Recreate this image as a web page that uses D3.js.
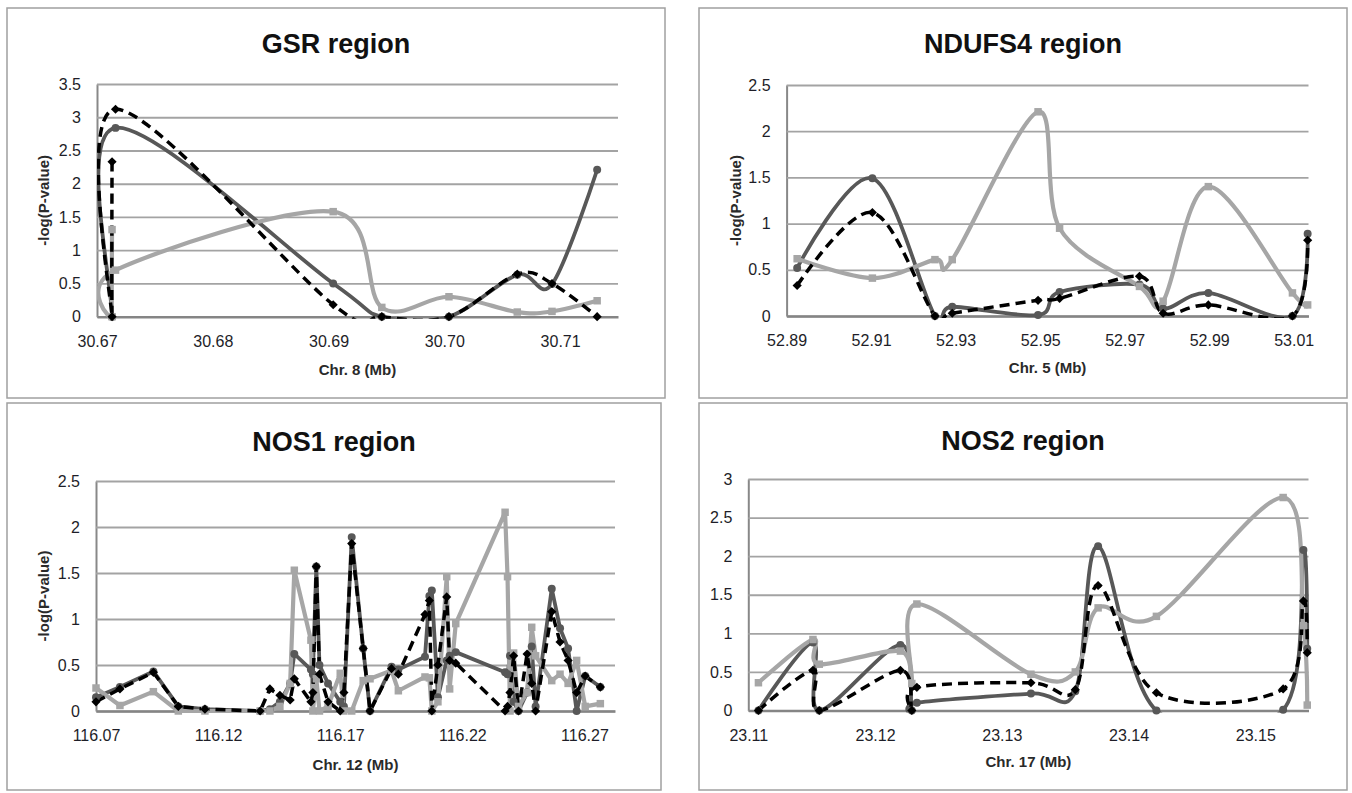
<!DOCTYPE html>
<html>
<head>
<meta charset="utf-8">
<script src="https://cdn.jsdelivr.net/npm/d3@7"></script>
<style>
  body { margin: 0; background: #fff; }
  svg { display: block; }
  text { font-family: "Liberation Sans", Arial, sans-serif; }
</style>
</head>
<body>
<div id="chart"></div>
<script>
// ---- data: SNP position (Mb) and -log(P) for three series ----
// series order in every panel: dark grey solid (circles), black dashed (diamonds), light grey (squares)

// GSR region, chr 8
const gsrPos    = [30.6713, 30.6713, 30.6716, 30.6904, 30.6946, 30.7004, 30.7063, 30.7093, 30.7132];
const gsrDark   = [0, 0, 2.84, 0.50, 0, 0, 0.63, 0.49, 2.21];
const gsrDashed = [2.33, 0, 3.12, 0.18, 0, 0, 0.64, 0.50, 0];
const gsrLight  = [1.31, 0, 0.70, 1.58, 0.14, 0.30, 0.07, 0.08, 0.24];
const gsrXTicks = [30.67, 30.68, 30.69, 30.70, 30.71];
const gsrYTicks = [0, 0.5, 1, 1.5, 2, 2.5, 3, 3.5];

// NDUFS4 region, chr 5
const ndPos    = [52.8925, 52.9103, 52.9251, 52.9292, 52.9495, 52.9546, 52.9735, 52.9791, 52.9898, 53.0097, 53.0133];
const ndDark   = [0.52, 1.49, 0, 0.10, 0.01, 0.26, 0.34, 0.08, 0.25, 0, 0.89];
const ndDashed = [0.33, 1.12, 0, 0.03, 0.17, 0.19, 0.43, 0.03, 0.12, 0, 0.82];
const ndLight  = [0.62, 0.41, 0.61, 0.61, 2.21, 0.95, 0.32, 0.16, 1.40, 0.25, 0.12];
const ndXTicks = [52.89, 52.91, 52.93, 52.95, 52.97, 52.99, 53.01];
const ndYTicks = [0, 0.5, 1, 1.5, 2, 2.5];

// NOS1 region, chr 12
const nos1Pos = [116.0700, 116.0798, 116.0935, 116.1037, 116.1146, 116.1372, 116.1412, 116.1453, 116.1495, 116.1512,
                 116.1580, 116.1588, 116.1602, 116.1615, 116.1650, 116.1700, 116.1715, 116.1747, 116.1794, 116.1822,
                 116.1910, 116.1938, 116.2047, 116.2065, 116.2075, 116.2100, 116.2136, 116.2148, 116.2173, 116.2375,
                 116.2385, 116.2395, 116.2410, 116.2430, 116.2465, 116.2484, 116.2500, 116.2566, 116.2600, 116.2633,
                 116.2668, 116.2703, 116.2765];
const nos1Dark = [0.15, 0.26, 0.43, 0.05, 0.02, 0, 0.02, 0.10, 0.30, 0.62,
                  0.45, 0.40, 1.57, 0.50, 0.30, 0.10, 0.05, 1.89, 0.68, 0,
                  0.48, 0.45, 0.59, 1.25, 1.31, 0.15, 0.55, 0.60, 0.64, 0.42,
                  0.40, 0.60, 0.10, 0, 0.20, 0.70, 0.05, 1.33, 0.90, 0.68,
                  0, 0.38, 0.26];
const nos1Dashed = [0.10, 0.24, 0.42, 0.05, 0.02, 0, 0.24, 0.17, 0.12, 0.35,
                    0.10, 0.20, 1.57, 0.40, 0.10, 0, 0.20, 1.82, 0.68, 0,
                    0.46, 0.40, 1.05, 1.20, 0, 0.50, 1.24, 0.55, 0.52, 0,
                    0.05, 0.20, 0.60, 0, 0.62, 0.30, 0, 1.08, 0.75, 0.55,
                    0.20, 0.38, 0.26];
const nos1Light = [0.25, 0.06, 0.21, 0, 0, 0, 0, 0.05, 0.30, 1.53,
                   0.77, 0, 0.35, 0, 0.05, 0.41, 0, 0, 0.33, 0.35,
                   0.44, 0.22, 0.37, 0.36, 0, 0.10, 1.46, 0.24, 0.95, 2.16,
                   1.46, 0, 0.63, 0.05, 0.20, 0.91, 0.60, 0.33, 0.40, 0.30,
                   0.55, 0.05, 0.08];
const nos1XTicks = [116.07, 116.12, 116.17, 116.22, 116.27];
const nos1YTicks = [0, 0.5, 1, 1.5, 2, 2.5];

// NOS2 region, chr 17
const nos2Pos    = [23.1108, 23.1151, 23.1156, 23.1220, 23.1229, 23.1233, 23.1323, 23.1358, 23.1376, 23.1422, 23.1522, 23.1538, 23.1541];
const nos2Dark   = [0, 0.88, 0, 0.85, 0, 0.10, 0.22, 0.25, 2.13, 0, 0.01, 2.08, 0.80];
const nos2Dashed = [0, 0.52, 0, 0.52, 0, 0.30, 0.36, 0.27, 1.62, 0.23, 0.28, 1.42, 0.75];
const nos2Light  = [0.36, 0.92, 0.60, 0.77, 0.35, 1.38, 0.47, 0.50, 1.33, 1.22, 2.76, 1.10, 0.07];
const nos2XTicks = [23.11, 23.12, 23.13, 23.14, 23.15];
const nos2YTicks = [0, 0.5, 1, 1.5, 2, 2.5, 3];


const W = 1352, H = 793;

const svg = d3.select("#chart")
    .append("svg")
    .attr("width", W)
    .attr("height", H);

// box = [x, y, w, h] of the panel frame, plot = [left, right, top, bottom]
const panels = [
    { id: "gsr", title: "GSR region", xLabel: "Chr. 8 (Mb)", yLabel: "-log(P-value)",
      pos: gsrPos, series: [gsrDark, gsrDashed, gsrLight], xTicks: gsrXTicks, yTicks: gsrYTicks,
      xMax: 30.715, fmt: ".2f", smooth: true,
      box: [7, 8, 658, 390], plot: [97, 618, 84, 316.7], titleY: 53, xLabelY: 375, yLabelX: 44 },
    { id: "nd", title: "NDUFS4 region", xLabel: "Chr. 5 (Mb)", yLabel: "-log(P-value)",
      pos: ndPos, series: [ndDark, ndDashed, ndLight], xTicks: ndXTicks, yTicks: ndYTicks,
      xMax: 53.0135, fmt: ".2f", smooth: true,
      box: [699, 8, 648, 390], plot: [786.6, 1308.5, 85, 316], titleY: 53, xLabelY: 373, yLabelX: 736 },
    { id: "nos1", title: "NOS1 region", xLabel: "Chr. 12 (Mb)", yLabel: "-log(P-value)",
      pos: nos1Pos, series: [nos1Dark, nos1Dashed, nos1Light], xTicks: nos1XTicks, yTicks: nos1YTicks,
      xMax: 116.2825, fmt: ".2f", smooth: false,
      box: [7, 403, 654, 387], plot: [96, 615, 481, 711], titleY: 451, xLabelY: 770, yLabelX: 44 },
    { id: "nos2", title: "NOS2 region", xLabel: "Chr. 17 (Mb)", yLabel: null,
      pos: nos2Pos, series: [nos2Dark, nos2Dashed, nos2Light], xTicks: nos2XTicks, yTicks: nos2YTicks,
      xMax: 23.1542, fmt: ".2f", smooth: true,
      box: [699, 403, 648, 387], plot: [748.3, 1308.5, 479, 710.5], titleY: 450, xLabelY: 767, yLabelX: null }
];

const seriesStyle = [
    { color: "#585858", width: 3.8, dash: null, symbol: d3.symbolCircle, size: 50, rotate: 0 },
    { color: "#000000", width: 3.5, dash: "10,6", symbol: d3.symbolSquare, size: 42, rotate: 45 },
    { color: "#a6a6a6", width: 4.2, dash: null, symbol: d3.symbolSquare, size: 56, rotate: 0 }
];
const drawOrder = [0, 2, 1];

let drawPanel = function(p) {

    const g = svg.append("g").attr("class", "panel");

    g.append("rect")
        .attr("x", p.box[0])
        .attr("y", p.box[1])
        .attr("width", p.box[2])
        .attr("height", p.box[3])
        .attr("fill", "#fff")
        .attr("stroke", "#a0a0a0")
        .attr("stroke-width", 1.5);

    const x = d3.scaleLinear().domain([p.xTicks[0], p.xMax]).range([p.plot[0], p.plot[1]]);
    const y = d3.scaleLinear().domain([0, d3.max(p.yTicks)]).range([p.plot[3], p.plot[2]]);

    // y axis with gridlines
    const yAxis = g.append("g")
        .attr("transform", "translate(" + p.plot[0] + ",0)")
        .call(d3.axisLeft(y)
            .tickValues(p.yTicks)
            .tickFormat(d3.format(""))
            .tickSize(-(p.plot[1] - p.plot[0]))
            .tickSizeOuter(0)
            .tickPadding(16));
    yAxis.select(".domain").attr("stroke", "#888").attr("stroke-width", 2);
    yAxis.selectAll(".tick line").attr("stroke", "#a3a3a3").attr("stroke-width", 1.8);
    yAxis.selectAll(".tick text")
        .attr("font-size", 16)
        .attr("fill", "#1e1e28");

    // x axis along zero
    const xAxis = g.append("g")
        .attr("transform", "translate(0," + p.plot[3] + ")")
        .call(d3.axisBottom(x)
            .tickValues(p.xTicks)
            .tickFormat(d3.format(p.fmt))
            .tickSize(0)
            .tickSizeOuter(0)
            .tickPadding(19));
    xAxis.select(".domain").attr("stroke", "#858585").attr("stroke-width", 2.6);
    xAxis.selectAll(".tick text")
        .attr("font-size", 16)
        .attr("fill", "#1e1e28");

    // clip so smoothed overshoot stays inside the plot area
    g.append("clipPath")
        .attr("id", "clip-" + p.id)
        .append("rect")
        .attr("x", p.plot[0])
        .attr("y", p.plot[2] - 4)
        .attr("width", p.plot[1] - p.plot[0] + 4)
        .attr("height", p.plot[3] - p.plot[2] + 6);

    const lines = g.append("g").attr("clip-path", "url(#clip-" + p.id + ")");

    const line = d3.line()
        .x(function(d, i) { return x(p.pos[i]); })
        .y(function(d) { return y(d); })
        .curve(p.smooth ? d3.curveCardinal.tension(0) : d3.curveLinear);

    drawOrder.forEach(function(k) {
        const st = seriesStyle[k];
        const vals = p.series[k];

        lines.append("path")
            .datum(vals)
            .attr("d", line)
            .attr("fill", "none")
            .attr("stroke", st.color)
            .attr("stroke-width", st.width)
            .attr("stroke-linejoin", "round")
            .attr("stroke-dasharray", st.dash);

        g.append("g").selectAll("path")
            .data(vals)
            .enter()
            .append("path")
            .attr("d", d3.symbol().type(st.symbol).size(st.size))
            .attr("transform", function(d, i) {
                return "translate(" + x(p.pos[i]) + "," + y(d) + ") rotate(" + st.rotate + ")";
            })
            .attr("fill", st.color);
    });

    // titles and axis labels
    g.append("text")
        .attr("x", p.box[0] + p.box[2] / 2)
        .attr("y", p.titleY)
        .attr("text-anchor", "middle")
        .attr("font-size", 27)
        .attr("font-weight", "bold")
        .attr("fill", "#111")
        .text(p.title);

    g.append("text")
        .attr("x", (p.plot[0] + p.plot[1]) / 2)
        .attr("y", p.xLabelY)
        .attr("text-anchor", "middle")
        .attr("font-size", 15)
        .attr("font-weight", "bold")
        .attr("fill", "#2a2a2a")
        .text(p.xLabel);

    if (p.yLabel) {
        g.append("text")
            .attr("transform", "translate(" + (p.yLabelX + 5) + "," + (p.plot[2] + p.plot[3]) / 2 + ") rotate(-90)")
            .attr("text-anchor", "middle")
            .attr("font-size", 15)
            .attr("font-weight", "bold")
            .attr("fill", "#2a2a2a")
            .text(p.yLabel);
    }
};

panels.forEach(drawPanel);
</script>
</body>
</html>
